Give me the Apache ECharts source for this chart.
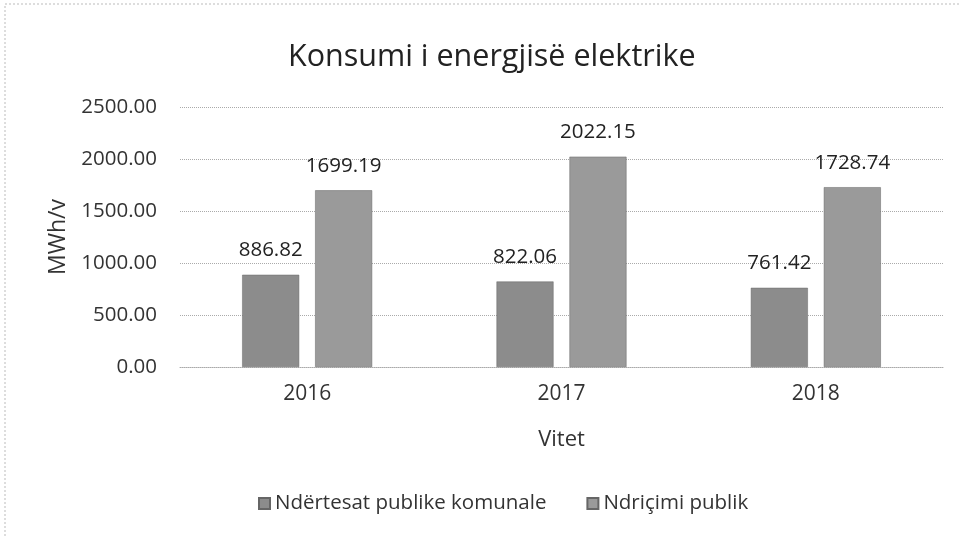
<!DOCTYPE html>
<html><head><meta charset="utf-8">
<script src="https://cdn.jsdelivr.net/npm/echarts@6/dist/echarts.min.js"></script>
<style>html,body{margin:0;padding:0;background:#fff}#c{width:960px;height:537px}</style>
</head><body><div id="c"></div>
<script>
const categories = ['2016', '2017', '2018'];
const seriesNames = ['Ndërtesat publike komunale', 'Ndriçimi publik'];
const buildingValues = [886.82, 822.06, 761.42];
const lightingValues = [1699.19, 2022.15, 1728.74];
const yTicks = [0, 500, 1000, 1500, 2000, 2500];

const chart = echarts.init(document.getElementById('c'));
const font = 'Open Sans, Noto Sans, sans-serif';
chart.setOption({
  animation: false,
  backgroundColor: '#fff',
  title: {
    text: 'Konsumi i energjisë elektrike',
    left: 283, top: 37,
    textStyle: { fontFamily: font, fontSize: 30.5, fontWeight: 'normal', color: '#222' }
  },
  graphic: [{
    type: 'rect', shape: { x: 5, y: 4, width: 960, height: 540 },
    style: { fill: 'none', stroke: '#bbb', lineWidth: 1, lineDash: [2, 2] }, silent: true
  }],
  legend: {
    bottom: 18, left: 253, itemWidth: 11, itemHeight: 11, itemGap: 40,
    icon: 'rect',
    textStyle: { fontFamily: font, fontSize: 20.5, color: '#333' },
    data: seriesNames
  },
  grid: { left: 180, right: 17, top: 107, bottom: 170 },
  xAxis: {
    type: 'category', data: categories,
    name: 'Vitet', nameLocation: 'middle', nameGap: 62,
    nameTextStyle: { fontFamily: font, fontSize: 22, color: '#333' },
    axisLine: { show: true, lineStyle: { color: '#aaa', type: 'dotted' } },
    axisTick: { show: false },
    axisLabel: { fontFamily: font, fontSize: 21, color: '#333', margin: 17 }
  },
  yAxis: {
    type: 'value', min: 0, max: 2500, interval: 500,
    name: 'MWh/v', nameLocation: 'middle', nameGap: 110, nameRotate: 90,
    nameTextStyle: { fontFamily: font, fontSize: 23, color: '#333' },
    axisLine: { show: false }, axisTick: { show: false },
    axisLabel: { fontFamily: font, fontSize: 20.5, color: '#333', margin: 23,
      formatter: v => v.toFixed(2) },
    splitLine: { lineStyle: { color: '#aaa', type: 'dotted', width: 1 } }
  },
  series: [
    { name: seriesNames[0], type: 'bar', data: buildingValues, barWidth: 57, barGap: '28%',
      itemStyle: { color: '#8c8c8c', borderColor: '#666', borderWidth: 0.5 },
      label: { show: true, position: 'top', distance: 14, fontFamily: font, fontSize: 20.5, color: '#222',
        formatter: p => p.value.toFixed(2) } },
    { name: seriesNames[1], type: 'bar', data: lightingValues, barWidth: 57,
      itemStyle: { color: '#9a9a9a', borderColor: '#666', borderWidth: 0.5 },
      label: { show: true, position: 'top', distance: 14, fontFamily: font, fontSize: 20.5, color: '#222',
        formatter: p => p.value.toFixed(2) } }
  ]
});
</script></body></html>
